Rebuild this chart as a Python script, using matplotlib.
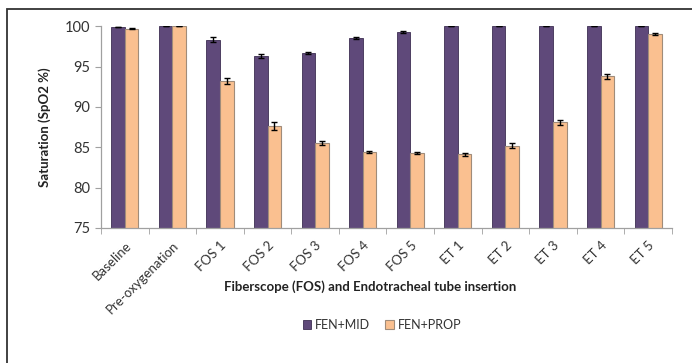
import numpy as np
import matplotlib
matplotlib.use("Agg")
import matplotlib.pyplot as plt
from matplotlib.patches import Rectangle

plt.rcParams['font.family'] = ['Lato', 'DejaVu Sans']

categories = ["Baseline", "Pre-oxygenation", "FOS 1", "FOS 2", "FOS 3", "FOS 4",
              "FOS 5", "ET 1", "ET 2", "ET 3", "ET 4", "ET 5"]
fen_mid = [99.9, 100.0, 98.3, 96.3, 96.7, 98.5, 99.3, 100.0, 100.0, 100.0, 100.0, 100.0]
fen_mid_err = [0.05, 0.0, 0.3, 0.2, 0.15, 0.1, 0.1, 0.0, 0.0, 0.0, 0.0, 0.0]
fen_prop = [99.7, 100.0, 93.2, 87.6, 85.5, 84.4, 84.3, 84.1, 85.2, 88.1, 93.8, 99.0]
fen_prop_err = [0.05, 0.0, 0.4, 0.5, 0.25, 0.1, 0.1, 0.15, 0.3, 0.3, 0.3, 0.1]

purple = "#5f497a"
peach = "#fac090"

fig = plt.figure(figsize=(6.92, 3.63), dpi=100)
ax = fig.add_axes([0.146, 0.372, 0.825, 0.556])

x = np.arange(len(categories))
w = 0.285
ekw = dict(ecolor="black", elinewidth=1.0, capsize=2.5, capthick=1.0)
ax.bar(x - w / 2, fen_mid, w, yerr=fen_mid_err, color=purple, edgecolor="#3d2f52",
       linewidth=0.6, error_kw=ekw, label="FEN+MID", bottom=0)
ax.bar(x + w / 2, fen_prop, w, yerr=fen_prop_err, color=peach, edgecolor="#a08c7a",
       linewidth=0.8, error_kw=ekw, label="FEN+PROP")

ax.set_ylim(75, 100)
ax.set_xlim(-0.5, len(categories) - 0.5)
ax.set_yticks([75, 80, 85, 90, 95, 100])
ax.set_xticks(x)
ax.set_xticklabels(categories, rotation=45, ha="right", rotation_mode="anchor")
ax.set_xticks(np.arange(len(categories) + 1) - 0.5, minor=True)
ax.tick_params(axis="x", which="major", length=0, pad=8, labelsize=9.5, labelcolor="#333333")
ax.tick_params(axis="x", which="minor", length=4, color="#a0a0a0", direction="out")
ax.tick_params(axis="y", length=4, color="#a0a0a0", direction="out", labelsize=10.5,
               labelcolor="#333333", pad=4)

for s in ["top", "right"]:
    ax.spines[s].set_visible(False)
for s in ["left", "bottom"]:
    ax.spines[s].set_color("#a0a0a0")
    ax.spines[s].set_linewidth(0.9)

ax.set_ylabel("Saturation (SpO2 %)", fontsize=9.5, fontweight="bold", color="#222222", labelpad=10)
fig.text(0.535, 0.21, "Fiberscope (FOS) and Endotracheal tube insertion", ha="center",
         va="center", fontsize=9.5, fontweight="bold", color="#222222")

fig.legend(loc="center", bbox_to_anchor=(0.552, 0.105), ncol=2, frameon=False,
           fontsize=9, handlelength=0.7, handleheight=0.7, handletextpad=0.3,
           columnspacing=1.2, labelcolor="#333333")

# outer frame, cut by the image edge on the right and bottom
fig.patches.append(Rectangle((7 / 692, -0.05), 1.1, (363 - 9) / 363 + 0.05,
                             transform=fig.transFigure, fill=False,
                             edgecolor="#333333", linewidth=1.3))

fig.savefig("out.png", dpi=100)
